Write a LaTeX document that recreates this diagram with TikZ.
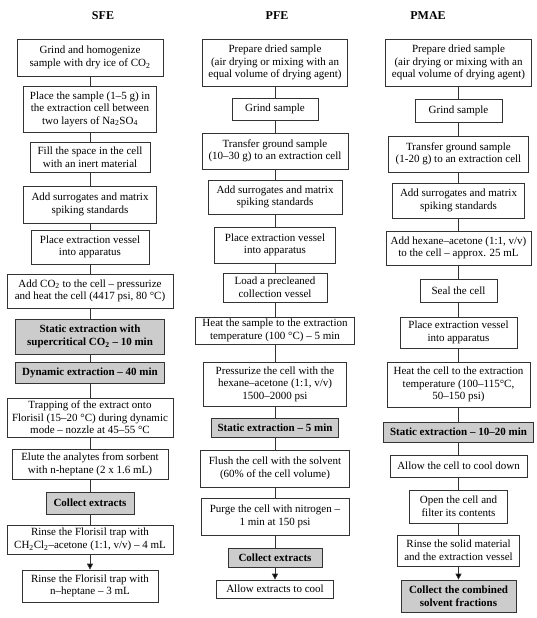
\documentclass[tikz,border=0pt]{standalone}
\usepackage{fontspec}
\setmainfont{Liberation Serif}
\usetikzlibrary{arrows.meta}
\begin{document}
\begin{tikzpicture}[x=1pt,y=-1pt,
  box/.style={draw=black!80, line width=0.7pt, fill=white, align=center,
    inner xsep=2pt, inner ysep=1pt, font=\fontsize{11}{12.6}\selectfont},
  gbox/.style={box, fill=black!20, font=\fontsize{11}{12.6}\selectfont\bfseries},
  ttl/.style={font=\fontsize{12}{14}\selectfont\bfseries},
  conn/.style={draw=black!80, line width=0.7pt},
  arr/.style={conn, -{Triangle[length=6pt,width=6pt,fill=black]}}]
\useasboundingbox (0,0) rectangle (537,618);
% titles
\node[ttl] (tS) at (103,16) {SFE};
\node[ttl] (tP) at (277,16) {PFE};
\node[ttl] (tM) at (428,16) {PMAE};
% ---------------- SFE ----------------
\node[box, minimum width=146, minimum height=37] (s1) at (90,57.5) {Grind and homogenize\\sample with dry ice of CO\textsubscript{2}};
\node[box, minimum width=133, minimum height=46] (s2) at (90,109) {Place the sample (1–5 g) in\\the extraction cell between\\two layers of Na\textsubscript{2}SO\textsubscript{4}};
\node[box, minimum width=120, minimum height=30] (s3) at (90,157) {Fill the space in the cell\\with an inert material};
\node[box, minimum width=133, minimum height=37] (s4) at (90,204.5) {Add surrogates and matrix\\spiking standards};
\node[box, minimum width=118, minimum height=34] (s5) at (90,247) {Place extraction vessel\\into apparatus};
\node[box, minimum width=166, minimum height=34] (s6) at (90,291) {Add CO\textsubscript{2} to the cell – pressurize\\and heat the cell (4417 psi, 80 °C)};
\node[gbox, minimum width=149, minimum height=35] (s7) at (90,336.5) {Static extraction with\\supercritical CO\textsubscript{2} – 10 min};
\node[gbox, minimum width=149, minimum height=21] (s8) at (90,372.5) {Dynamic extraction – 40 min};
\node[box, minimum width=166, minimum height=39] (s9) at (90,417.5) {Trapping of the extract onto\\Florisil (15–20 °C) during dynamic\\mode – nozzle at 45–55 °C};
\node[box, minimum width=156, minimum height=30] (s10) at (90,464) {Elute the analytes from sorbent\\with n-heptane (2 x 1.6 mL)};
\node[gbox, minimum width=88, minimum height=22] (s11) at (90,503) {Collect extracts};
\node[box, minimum width=166, minimum height=29] (s12) at (90,539.5) {Rinse the Florisil trap with\\CH\textsubscript{2}Cl\textsubscript{2}–acetone (1:1, v/v) – 4 mL};
\node[box, minimum width=136, minimum height=32] (s13) at (90,586) {Rinse the Florisil trap with\\n–heptane – 3 mL};
\foreach \a/\b in {s1/s2,s2/s3,s3/s4,s4/s5,s5/s6,s6/s7,s7/s8,s8/s9,s9/s10,s10/s11,s11/s12}
  \draw[conn] (\a) -- (\b);
\draw[arr] (s12) -- (s13);
% ---------------- PFE ----------------
\node[box, minimum width=145, minimum height=47] (p1) at (275,62.5) {Prepare dried sample\\(air drying or mixing with an\\equal volume of drying agent)};
\node[box, minimum width=86, minimum height=22] (p2) at (275,109) {Grind sample};
\node[box, minimum width=146, minimum height=36] (p3) at (275,151) {Transfer ground sample\\(10–30 g) to an extraction cell};
\node[box, minimum width=134, minimum height=34] (p4) at (275,197) {Add surrogates and matrix\\spiking standards};
\node[box, minimum width=121, minimum height=36] (p5) at (275,245) {Place extraction vessel\\into apparatus};
\node[box, minimum width=104, minimum height=29] (p6) at (275,287.5) {Load a precleaned\\collection vessel};
\node[box, minimum width=159, minimum height=27] (p7) at (275,330.5) {Heat the sample to the extraction\\temperature (100 °C) – 5 min};
\node[box, minimum width=143, minimum height=44] (p8) at (275,384) {Pressurize\ the cell with the\\hexane–acetone (1:1, v/v)\\1500–2000 psi};
\node[gbox, minimum width=127, minimum height=19] (p9) at (275,427.5) {Static extraction – 5 min};
\node[box, minimum width=149, minimum height=37] (p10) at (275,468.5) {Flush the cell with the solvent\\(60\% of the cell volume)};
\node[box, minimum width=148, minimum height=37] (p11) at (275,516.5) {Purge the cell with nitrogen –\\1 min at 150 psi};
\node[gbox, minimum width=94, minimum height=19] (p12) at (275,557.5) {Collect extracts};
\node[box, minimum width=117, minimum height=18] (p13) at (275,589) {Allow extracts to cool};
\foreach \a/\b in {p1/p2,p2/p3,p3/p4,p4/p5,p5/p6,p6/p7,p7/p8,p8/p9,p9/p10,p10/p11,p11/p12}
  \draw[conn] (\a) -- (\b);
\draw[arr] (p12) -- (p13);
% ---------------- PMAE ----------------
\node[box, minimum width=146, minimum height=47] (m1) at (458.5,62.5) {Prepare dried sample\\(air drying or mixing with an\\equal volume of drying agent)};
\node[box, minimum width=87, minimum height=23] (m2) at (458.5,110.5) {Grind sample};
\node[box, minimum width=140, minimum height=36] (m3) at (458.5,154) {Transfer ground sample\\(1-20 g) to an extraction cell};
\node[box, minimum width=132, minimum height=35] (m4) at (458.5,200.5) {Add surrogates and matrix\\spiking standards};
\node[box, minimum width=145, minimum height=34] (m5) at (458.5,248) {Add hexane–acetone (1:1, v/v)\\to the cell – approx. 25 mL};
\node[box, minimum width=77, minimum height=23] (m6) at (458.5,290.5) {Seal the cell};
\node[box, minimum width=117, minimum height=31] (m7) at (458.5,332.5) {Place extraction vessel\\into apparatus};
\node[box, minimum width=143, minimum height=45] (m8) at (458.5,384.5) {Heat the cell to the extraction\\temperature (100–115°C,\\50–150 psi)};
\node[gbox, minimum width=150, minimum height=20] (m9) at (458.5,432) {Static extraction – 10–20 min};
\node[box, minimum width=137, minimum height=22] (m10) at (458.5,466) {Allow the cell to cool down};
\node[box, minimum width=98, minimum height=33] (m11) at (458.5,506.5) {Open the cell and\\filter its contents};
\node[box, minimum width=122, minimum height=31] (m12) at (458.5,550.5) {Rinse the solid material\\and the extraction vessel};
\node[gbox, minimum width=115, minimum height=32] (m13) at (458.5,596) {Collect the combined\\solvent fractions};
\foreach \a/\b in {m1/m2,m2/m3,m3/m4,m4/m5,m5/m6,m6/m7,m7/m8,m8/m9,m9/m10,m10/m11,m11/m12}
  \draw[conn] (\a) -- (\b);
\draw[arr] (m12) -- (m13);
\end{tikzpicture}
\end{document}
